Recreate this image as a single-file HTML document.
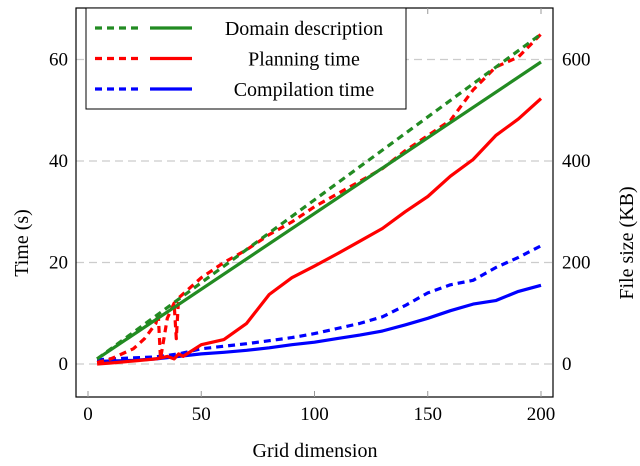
<!DOCTYPE html>
<html><head><meta charset="utf-8"><style>
body{margin:0;background:#fff}
svg text{font-family:"Liberation Serif",serif;fill:#000}
</style></head><body>
<svg id="c" width="640" height="461" xmlns="http://www.w3.org/2000/svg"></svg>
<script>
const xTicks=[0,50,100,150,200];
const yTicksLeft=[0,20,40,60];
const yTicksRight=[0,200,400,600];
const domX=[4,200];
const domDescSize=[10,650];
const domDescTime=[1,59.5];
const planX=[4,10,15,20,25,30,31,32,35,38,39,40,50,60,70,80,90,100,110,120,130,140,150,160,170,180,190,200];
const planSize=[3,10,20,30,50,80,100,10,90,120,50,130,170,200,225,255,280,310,335,360,385,420,450,480,540,585,605,650];
const planTimeX=[4,10,20,30,35,38,40,42,50,60,70,80,90,100,110,120,130,140,150,160,170,180,190,200];
const planTime=[0,0.2,0.6,1,1.5,1,2,1.5,3.8,4.8,8,13.7,17,19.3,21.7,24.2,26.7,30,33,37,40.3,45,48.3,52.3];
const compX=[4,10,20,30,40,50,60,70,80,90,100,110,120,130,140,150,160,170,180,190,200];
const compSize=[8,10,12,14,20,30,35,40,46,52,60,70,80,93,115,140,156,165,190,210,233];
const compTime=[0.5,0.6,0.7,1,1.5,2,2.3,2.7,3.2,3.8,4.3,5,5.7,6.5,7.7,9,10.5,11.8,12.5,14.3,15.5];
const svg=document.getElementById('c');
const NS='http://www.w3.org/2000/svg';
const X=v=>88+v*(541-88)/200;
const YL=v=>364-v*(364-59.5)/60;
const YR=v=>364-v*(364-59.5)/600;
function mk(t,a,p){const e=document.createElementNS(NS,t);for(const k in a)e.setAttribute(k,a[k]);(p||svg).appendChild(e);return e;}
yTicksLeft.forEach(v=>{const g=mk('line',{x1:76,x2:553,y1:YL(v),y2:YL(v),stroke:'#ccc','stroke-width':1.2,'stroke-dasharray':'8 5'});

});
function series(xs,ys,Y,color,dash,name){const d=xs.map((x,i)=>(i?'L':'M')+X(x).toFixed(1)+' '+Y(ys[i]).toFixed(1)).join(' ');
const p=mk('path',{d:d,fill:'none',stroke:color,'stroke-width':3.2,'stroke-dasharray':dash||'none','stroke-linejoin':'round'});

}
series(compX,compTime,YL,'#0000ff','','compilation-time-line');
series(compX,compSize,YR,'#0000ff','7 5','compilation-size-line');
series(planTimeX,planTime,YL,'#ff0000','','planning-time-line');
series(planX,planSize,YR,'#ff0000','7 5','planning-size-line');
series(domX,domDescTime,YL,'#228b22','','domain-time-line');
series(domX,domDescSize,YR,'#228b22','7 5','domain-size-line');
const fr=mk('rect',{x:76,y:8,width:477,height:389,fill:'none',stroke:'#000','stroke-width':1.2});


xTicks.forEach(v=>{mk('line',{x1:X(v),x2:X(v),y1:397,y2:391,stroke:'#999'});mk('line',{x1:X(v),x2:X(v),y1:8,y2:14,stroke:'#999'});
const t=mk('text',{x:X(v),y:420,'text-anchor':'middle','font-size':19});t.textContent=v;

});
yTicksLeft.forEach(v=>{
const t=mk('text',{x:68,y:YL(v)+6,'text-anchor':'end','font-size':19});t.textContent=v;

});
yTicksRight.forEach(v=>{
const t=mk('text',{x:562,y:YR(v)+6,'font-size':19});t.textContent=v;

});
let t=mk('text',{x:315,y:457,'text-anchor':'middle','font-size':20});t.textContent='Grid dimension';


t=mk('text',{x:28,y:243,'text-anchor':'middle','font-size':20,transform:'rotate(-90 28 243)'});t.textContent='Time (s)';


t=mk('text',{x:633,y:243,'text-anchor':'middle','font-size':20,transform:'rotate(-90 633 243)'});t.textContent='File size (KB)';


const lg=mk('g',{});


mk('rect',{x:86,y:8,width:320,height:101,fill:'#fff',stroke:'#000','stroke-width':1},lg);
const labels=['Domain description','Planning time','Compilation time'];
const colors=['#228b22','#ff0000','#0000ff'];
labels.forEach((l,i)=>{const y=28+i*30.5;
mk('line',{x1:95,x2:141,y1:y,y2:y,stroke:colors[i],'stroke-width':3.2,'stroke-dasharray':'7 5'},lg);
mk('line',{x1:150,x2:192,y1:y,y2:y,stroke:colors[i],'stroke-width':3.2},lg);
const tx=mk('text',{x:304,y:y+7,'text-anchor':'middle','font-size':20},lg);tx.textContent=l;

});
</script>
</body></html>
